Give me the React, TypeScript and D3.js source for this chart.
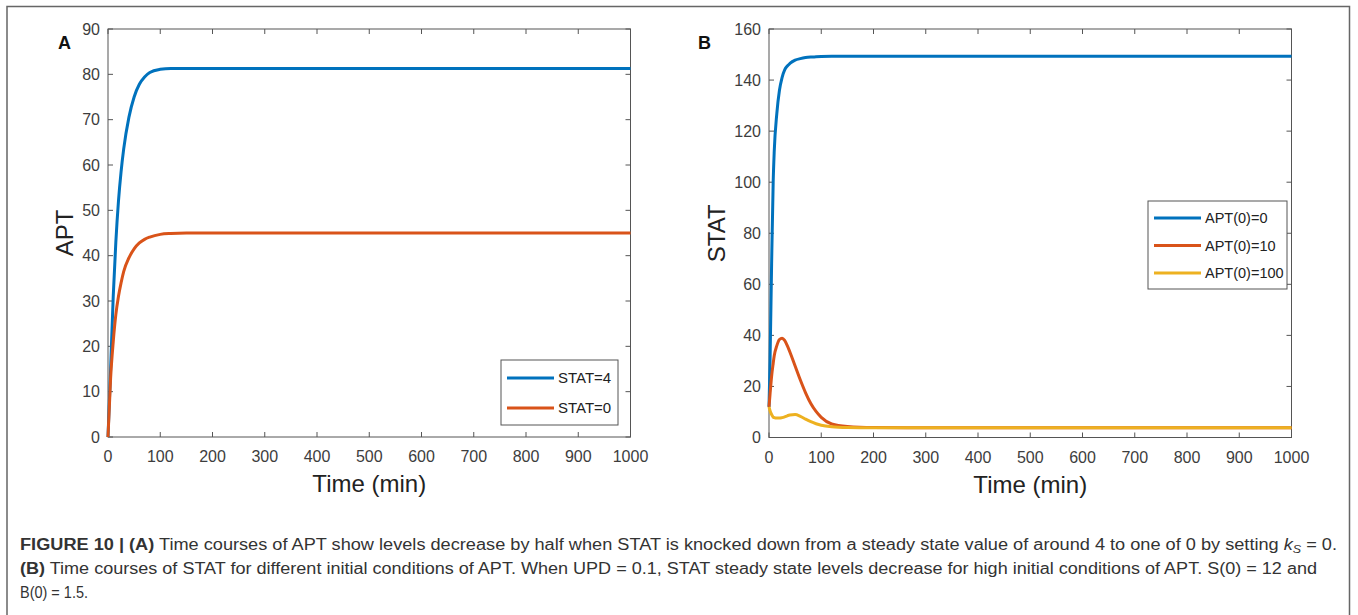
import React from 'react';
import * as d3 from 'd3';

// Panel A: APT time courses
const timeA = [0, 5, 10, 15, 20, 25, 30, 40, 50, 60, 70, 80, 100, 120, 150, 200, 1000];
const aptStat4 = [0, 15, 31, 43, 52, 58.5, 63.5, 70.5, 75, 77.8, 79.4, 80.4, 81.1, 81.3, 81.3, 81.3, 81.3];
const aptStat0 = [0, 13, 21, 27, 31, 34, 36.5, 39.5, 41.5, 42.8, 43.6, 44.1, 44.7, 44.9, 45, 45, 45];

// Panel B: STAT time courses
const timeB = [0, 2, 5, 8, 10, 15, 20, 25, 30, 35, 40, 50, 60, 70, 80, 90, 100, 120, 150, 200, 300, 1000];
const statApt0 = [12, 30, 68, 100, 112, 127, 136, 141, 144, 145.5, 146.5, 147.8, 148.4, 148.8, 149, 149.1, 149.2, 149.3, 149.3, 149.3, 149.3, 149.3];
const statApt10 = [12, 17, 24, 29, 32, 36, 38.4, 38.9, 38, 36, 33.5, 28, 22.5, 17.5, 13.3, 10.2, 7.9, 5.3, 4.3, 3.9, 3.8, 3.8];
const statApt100 = [12, 10.5, 9, 8, 7.8, 7.6, 7.6, 7.8, 8.1, 8.5, 8.8, 9, 8.3, 7.2, 6.2, 5.4, 4.8, 4.2, 3.9, 3.8, 3.8, 3.8];

const xTicks = [0, 100, 200, 300, 400, 500, 600, 700, 800, 900, 1000];
const yTicksA = [0, 10, 20, 30, 40, 50, 60, 70, 80, 90];
const yTicksB = [0, 20, 40, 60, 80, 100, 120, 140, 160];

const legendA = ['STAT=4', 'STAT=0'];
const legendB = ['APT(0)=0', 'APT(0)=10', 'APT(0)=100'];

const BLUE = '#0072BD';
const ORANGE = '#D95319';
const YELLOW = '#EDB120';
const AXIS = '#555';
const TEXT = '#3d3d3d';
const FONT = '"Liberation Sans", Arial, Helvetica, sans-serif';

type Series = { name: string; t: number[]; v: number[]; color: string };

const Panel = ({ left, right, top, bottom, yMax, yTicks, series, letter, letterX, yLabel, yLabelX, legend }) => {
    const x = d3.scaleLinear().domain([0, 1000]).range([left, right]);
    const y = d3.scaleLinear().domain([0, yMax]).range([bottom, top]);
    const line = d3.line<[number, number]>()
        .x(d => x(d[0]))
        .y(d => y(d[1]))
        .curve(d3.curveMonotoneX);
    const tk = 5;
    const midX = (left + right) / 2;
    const midY = (top + bottom) / 2;

    return (
        <g fontFamily={FONT}>
            <text x={letterX} y={49} fontSize={18} fontWeight="bold" fill="#111">{letter}</text>
            {/* box */}
            <rect x={left} y={top} width={right - left} height={bottom - top} fill="none" stroke={AXIS} strokeWidth={1} />
            {xTicks.map(t => (
                <g key={'x' + t}>
                    <line x1={x(t)} x2={x(t)} y1={bottom} y2={bottom - tk} stroke={AXIS} />
                    <line x1={x(t)} x2={x(t)} y1={top} y2={top + tk} stroke={AXIS} />
                    <text x={x(t)} y={bottom + 25} textAnchor="middle" fontSize={16} fill={TEXT}>{t}</text>
                </g>
            ))}
            {yTicks.map(t => (
                <g key={'y' + t}>
                    <line x1={left} x2={left + tk} y1={y(t)} y2={y(t)} stroke={AXIS} />
                    <line x1={right} x2={right - tk} y1={y(t)} y2={y(t)} stroke={AXIS} />
                    <text x={left - 8} y={y(t) + 5.5} textAnchor="end" fontSize={16} fill={TEXT}>{t}</text>
                </g>
            ))}
            <text x={midX} y={bottom + 55} textAnchor="middle" fontSize={24} fill="#222">Time (min)</text>
            <text transform={`translate(${yLabelX},${midY}) rotate(-90)`} textAnchor="middle" fontSize={24} fill="#222">{yLabel}</text>
            {series.map((s: Series) => (
                <path key={s.name} d={line(s.t.map((t, i) => [t, s.v[i]] as [number, number])) || ''}
                    fill="none" stroke={s.color} strokeWidth={3} strokeLinejoin="round" />
            ))}
            <g>
                <rect x={legend.x} y={legend.y} width={legend.w} height={legend.h} fill="#fff" stroke={AXIS} strokeWidth={1} />
                {series.map((s: Series, i: number) => {
                    const ly = legend.y + legend.first + i * legend.step;
                    return (
                        <g key={'l' + s.name}>
                            <line x1={legend.x + 6} x2={legend.x + 53} y1={ly} y2={ly} stroke={s.color} strokeWidth={3} />
                            <text x={legend.x + 57} y={ly + 5} fontSize={legend.fs} fill="#222">{s.name}</text>
                        </g>
                    );
                })}
            </g>
        </g>
    );
};

export default function App() {
    const seriesA: Series[] = [
        { name: legendA[0], t: timeA, v: aptStat4, color: BLUE },
        { name: legendA[1], t: timeA, v: aptStat0, color: ORANGE },
    ];
    const seriesB: Series[] = [
        { name: legendB[0], t: timeB, v: statApt0, color: BLUE },
        { name: legendB[1], t: timeB, v: statApt10, color: ORANGE },
        { name: legendB[2], t: timeB, v: statApt100, color: YELLOW },
    ];

    return (
        <svg width={1358} height={615} style={{ position: 'absolute', left: 0, top: 0, background: '#fff' }}>
            <rect x={0} y={0} width={1358} height={615} fill="#fff" />
            <path d="M7,615 V6.5 H1349.5 V615" fill="none" stroke="#666" strokeWidth={1.5} />
            <Panel left={108} right={630.5} top={29} bottom={437} yMax={90} yTicks={yTicksA}
                series={seriesA} letter="A" letterX={58} yLabel="APT" yLabelX={73}
                legend={{ x: 501, y: 360, w: 117, h: 65, first: 18, step: 30, fs: 15 }} />
            <Panel left={769} right={1291.5} top={29} bottom={437.5} yMax={160} yTicks={yTicksB}
                series={seriesB} letter="B" letterX={698} yLabel="STAT" yLabelX={725}
                legend={{ x: 1148, y: 201, w: 139, h: 88, first: 17, step: 27.5, fs: 14.5 }} />
            <g fontFamily={FONT} fontSize={16} fill="#333">
                <text x={20} y={550} textLength={1317} lengthAdjust="spacingAndGlyphs">
                    <tspan fontWeight="bold">FIGURE 10 | (A)</tspan> Time courses of APT show levels decrease by half when STAT is knocked down from a steady state value of around 4 to one of 0 by setting <tspan fontStyle="italic">k</tspan><tspan fontStyle="italic" fontSize={11} dy={3}>S</tspan><tspan dy={-3}> = 0.</tspan>
                </text>
                <text x={20} y={574} textLength={1297} lengthAdjust="spacingAndGlyphs">
                    <tspan fontWeight="bold">(B)</tspan> Time courses of STAT for different initial conditions of APT. When UPD = 0.1, STAT steady state levels decrease for high initial conditions of APT. S(0) = 12 and
                </text>
                <text x={20} y={598} textLength={68} lengthAdjust="spacingAndGlyphs">B(0) = 1.5.</text>
            </g>
        </svg>
    );
}
